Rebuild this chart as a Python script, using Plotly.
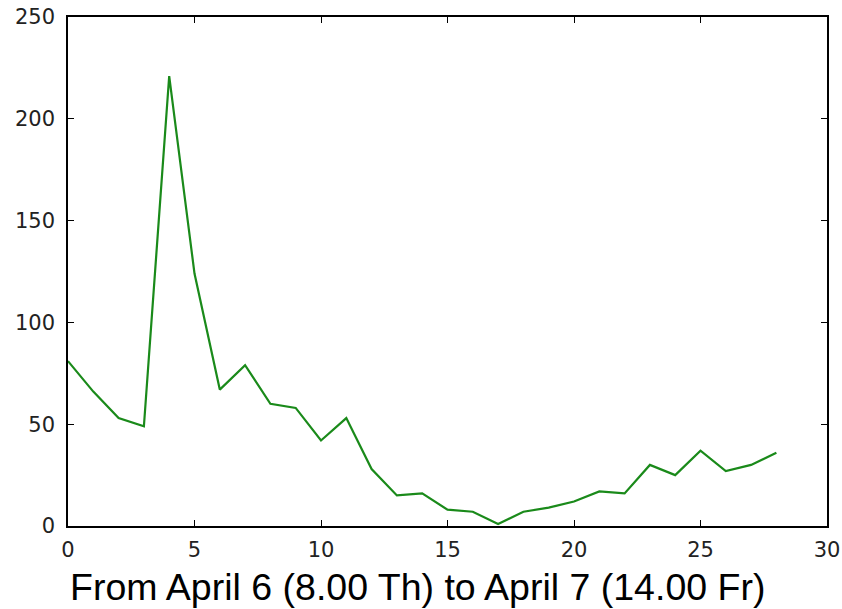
import plotly.graph_objects as go

hours = list(range(29))
counts = [81, 66, 53, 49, 221, 124, 67, 79, 60, 58, 42, 53, 28, 15, 16, 8, 7, 1, 7, 9, 12, 17, 16, 30, 25, 37, 27, 30, 36]
x_ticks = [0, 5, 10, 15, 20, 25, 30]
y_ticks = [0, 50, 100, 150, 200, 250]
x_title = "From April 6 (8.00 Th) to April 7 (14.00 Fr)"

fig = go.Figure(go.Scatter(x=hours, y=counts, mode="lines",
                           line=dict(color="#1a8a1a", width=2.2)))

axis_common = dict(showgrid=False, zeroline=False, showline=True, linecolor="black",
                   linewidth=1.5, mirror="ticks", ticks="inside", ticklen=6,
                   tickwidth=1, tickcolor="black", automargin=False,
                   tickfont=dict(family="DejaVu Sans", size=21, color="#222"))

fig.update_xaxes(range=[0, 30], tickvals=x_ticks, ticklabelstandoff=4, **axis_common)
fig.update_yaxes(range=[0, 250], tickvals=y_ticks, ticklabelstandoff=7, **axis_common)

fig.add_annotation(text=x_title, xref="paper", yref="paper", x=0.0, y=-0.12,
                   xanchor="left", yanchor="middle", showarrow=False,
                   font=dict(family="Liberation Sans", size=37.5, color="black"))

fig.update_layout(width=842, height=609, margin=dict(l=68, r=15, t=17, b=83),
                  plot_bgcolor="white", paper_bgcolor="white", showlegend=False)

fig.write_html("out.html", config={"displayModeBar": False},
               post_script="document.body.style.margin='0';document.body.style.overflow='hidden';")
